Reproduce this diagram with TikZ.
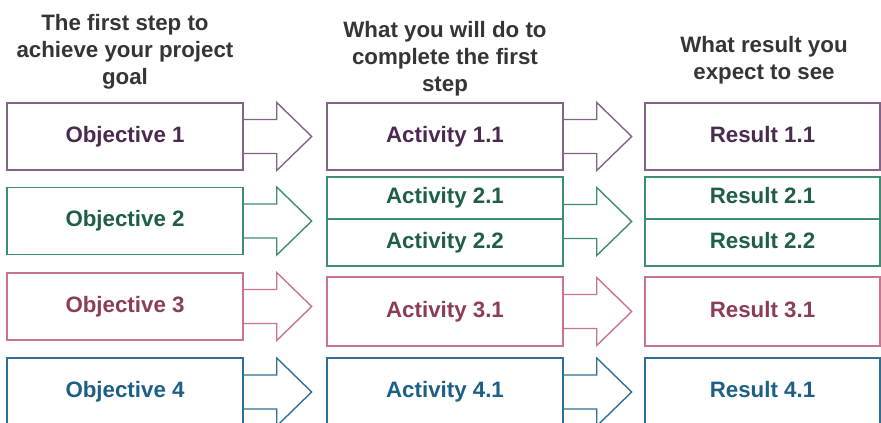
\documentclass[tikz,border=0pt]{standalone}
\usepackage{fontspec}
\setmainfont{Liberation Sans}
\usetikzlibrary{calc}
\definecolor{purB}{HTML}{84628A}
\definecolor{purT}{HTML}{4B2A4F}
\definecolor{grnB}{HTML}{3F8C74}
\definecolor{grnT}{HTML}{1E5E4A}
\definecolor{pnkB}{HTML}{C8738F}
\definecolor{pnkT}{HTML}{8C3D5A}
\definecolor{bluB}{HTML}{2F6F93}
\definecolor{bluT}{HTML}{1E5F86}
\definecolor{hdrc}{HTML}{353535}
\begin{document}
\begin{tikzpicture}[x=1pt,y=-1pt,
  box/.style={draw, line width=1.4pt, minimum width=236pt, inner sep=0pt,
    text height=16pt, text depth=5pt,
    font=\fontsize{22.3}{26.8}\selectfont\bfseries},
  hdr/.style={align=center, text=hdrc, inner sep=0pt,
    font=\fontsize{22.3}{27}\selectfont\bfseries},
  barrow/.pic={\draw[line width=1.4pt, line join=miter]
    (0,-17) -- (33,-17) -- (33,-34) -- (68,0) -- (33,34) -- (33,17) -- (0,17);}
]
\useasboundingbox (0,0) rectangle (881,423);
\clip (0,0) rectangle (881,423);
\fill[white] (0,0) rectangle (881,423);

% headers
\node[hdr] (h1) at (125,52) {The first step to\\achieve your project\\goal};
\node[hdr] (h2) at (445,59) {What you will do to\\complete the first\\step};
\node[hdr] (h3) at (764,60.5) {What result you\\expect to see};

% row 1
\node[box, draw=purB, text=purT, minimum height=67pt] (o1) at (125,136.5) {Objective 1};
\node[box, draw=purB, text=purT, minimum height=67pt] (a1) at (445,136.5) {Activity 1.1};
\node[box, draw=purB, text=purT, minimum height=67pt, minimum width=235pt] (r1) at (762.5,136.5) {Result 1.1};
\pic[color=purB] at (o1.east) {barrow};
\pic[color=purB] at (a1.east) {barrow};

% row 2
\node[box, draw=grnB, text=grnT, minimum height=67pt] (o2) at (125,221) {Objective 2};
\node[box, draw=grnB, text=grnT, minimum height=42pt] (a21) at (445,198) {Activity 2.1};
\node[box, draw=grnB, text=grnT, minimum height=47pt] (a22) at (445,242.5) {Activity 2.2};
\node[box, draw=grnB, text=grnT, minimum height=42pt, minimum width=235pt] (r21) at (762.5,198) {Result 2.1};
\node[box, draw=grnB, text=grnT, minimum height=47pt, minimum width=235pt] (r22) at (762.5,242.5) {Result 2.2};
\pic[color=grnB] at (o2.east) {barrow};
\pic[color=grnB] at ($(a21.north east)!0.5!(a22.south east)$) {barrow};

% row 3
\node[box, draw=pnkB, text=pnkT, minimum height=67pt] (o3) at (125,306.5) {Objective 3};
\node[box, draw=pnkB, text=pnkT, minimum height=69pt] (a3) at (445,311.5) {Activity 3.1};
\node[box, draw=pnkB, text=pnkT, minimum height=69pt, minimum width=235pt] (r3) at (762.5,311.5) {Result 3.1};
\pic[color=pnkB] at (o3.east) {barrow};
\pic[color=pnkB] at (a3.east) {barrow};

% row 4
\node[box, draw=bluB, text=bluT, minimum height=68pt] (o4) at (125,392) {Objective 4};
\node[box, draw=bluB, text=bluT, minimum height=68pt] (a4) at (445,392) {Activity 4.1};
\node[box, draw=bluB, text=bluT, minimum height=68pt, minimum width=235pt] (r4) at (762.5,392) {Result 4.1};
\pic[color=bluB] at (o4.east) {barrow};
\pic[color=bluB] at (a4.east) {barrow};
\end{tikzpicture}
\end{document}
